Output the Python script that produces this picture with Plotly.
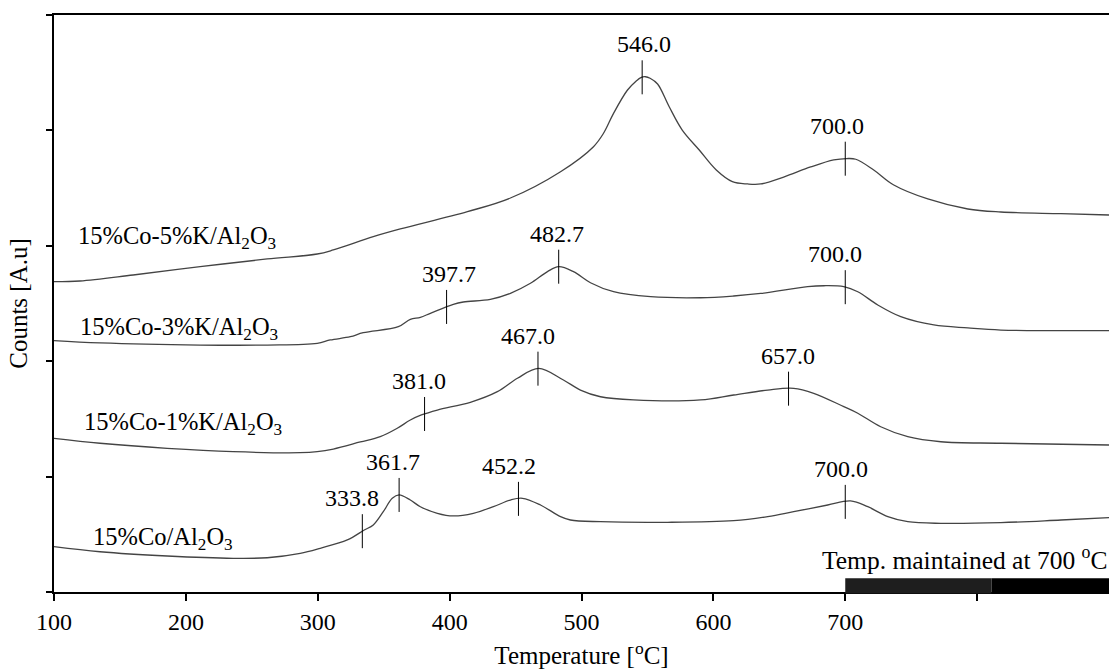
import numpy as np
import plotly.graph_objects as go

# TPR profiles, stacked (temperature in degC, counts in arbitrary units)
t_k5 = [100.0, 119.7, 160.0, 210.8, 261.7, 299.6, 311.8, 342.1, 362.6, 413.5, 446.1,
        484.1, 509.1, 516.7, 524.3, 534.9, 541.5, 545.0, 548.5, 552.0, 557.7, 566.5,
        576.4, 589.3, 602.2, 614.4, 626.0, 635.9, 653.3, 673.8, 691.3, 701.0, 708.0,
        721.6, 736.8, 762.6, 793.0, 818.0, 863.6, 900.0]
c_k5 = [2.689, 2.695, 2.747, 2.819, 2.886, 2.929, 2.964, 3.079, 3.146, 3.296, 3.414,
        3.642, 3.859, 3.975, 4.148, 4.350, 4.428, 4.458, 4.465, 4.452, 4.402, 4.205,
        4.003, 3.830, 3.657, 3.556, 3.536, 3.536, 3.596, 3.683, 3.744, 3.756, 3.750,
        3.657, 3.527, 3.406, 3.319, 3.293, 3.278, 3.267]

t_k3 = [100.0, 134.9, 210.8, 261.7, 299.6, 309.5, 324.7, 334.5, 361.1, 370.2, 377.8,
        385.4, 402.8, 410.4, 430.9, 446.1, 461.3, 474.2, 482.7, 493.9, 506.8, 524.3,
        552.4, 590.3, 615.4, 635.9, 671.5, 683.7, 698.9, 709.5, 724.7, 742.1, 767.2,
        793.0, 818.0, 900.0]
c_k3 = [2.178, 2.158, 2.140, 2.140, 2.155, 2.184, 2.212, 2.247, 2.299, 2.363, 2.380,
        2.415, 2.493, 2.513, 2.536, 2.588, 2.675, 2.776, 2.819, 2.776, 2.680, 2.602,
        2.559, 2.550, 2.565, 2.587, 2.646, 2.654, 2.646, 2.602, 2.487, 2.386, 2.314,
        2.288, 2.270, 2.265]

t_k1 = [100.0, 134.9, 185.8, 235.9, 286.7, 299.6, 311.8, 332.3, 347.4, 360.3, 370.2,
        378.6, 390.7, 415.7, 436.2, 451.4, 467.5, 486.3, 499.2, 514.4, 539.5, 590.3,
        615.4, 641.2, 660.9, 676.1, 698.9, 709.5, 726.9, 747.4, 772.5, 818.0, 900.0]
c_k1 = [1.332, 1.289, 1.245, 1.216, 1.207, 1.216, 1.239, 1.300, 1.346, 1.419, 1.490,
        1.534, 1.577, 1.644, 1.736, 1.852, 1.938, 1.837, 1.750, 1.692, 1.664, 1.664,
        1.707, 1.750, 1.765, 1.722, 1.606, 1.549, 1.432, 1.346, 1.302, 1.289, 1.274]

t_k0 = [100.0, 134.9, 185.8, 235.9, 261.7, 286.7, 301.9, 322.4, 335.3, 342.1, 349.7,
        356.5, 361.7, 370.2, 377.8, 390.7, 402.8, 418.0, 433.2, 446.1, 455.2, 468.9,
        484.1, 491.6, 514.4, 565.3, 615.4, 641.2, 660.9, 686.7, 704.0, 717.1, 732.3,
        747.4, 772.5, 818.0, 863.6, 900.0]
c_k0 = [0.393, 0.349, 0.312, 0.292, 0.297, 0.335, 0.379, 0.451, 0.537, 0.581, 0.696,
        0.812, 0.841, 0.797, 0.739, 0.682, 0.659, 0.682, 0.739, 0.797, 0.812, 0.754,
        0.653, 0.624, 0.609, 0.604, 0.618, 0.653, 0.696, 0.754, 0.789, 0.739, 0.653,
        0.609, 0.595, 0.601, 0.624, 0.644]

series_names = ["15%Co-5%K/Al<sub>2</sub>O<sub>3</sub>",
                "15%Co-3%K/Al<sub>2</sub>O<sub>3</sub>",
                "15%Co-1%K/Al<sub>2</sub>O<sub>3</sub>",
                "15%Co/Al<sub>2</sub>O<sub>3</sub>"]

# labelled peak temperatures for each profile
peaks_k5 = [546.0, 700.0]
peaks_k3 = [397.7, 482.7, 700.0]
peaks_k1 = [381.0, 467.0, 657.0]
peaks_k0 = [333.8, 361.7, 452.2, 700.0]

x_ticks = [100, 200, 300, 400, 500, 600, 700, 800]
x_tick_text = ["100", "200", "300", "400", "500", "600", "700", ""]
y_ticks = [0, 1, 2, 3, 4, 5]

hold_temp = 700
hold_start, hold_split, hold_end = 700, 811, 900

FONT = "Liberation Serif, Times New Roman, serif"
W, H = 1109, 671
ML, MR, MT, MB = 54, 0, 15, 79
X0, X1 = 100, 900
Y0, Y1 = 0, 5
px_per_y = (H - MT - MB) / (Y1 - Y0)
tick_half = 17 / px_per_y

# horizontal nudges (px) of the peak labels relative to their marks
label_nudge = {
    0: [2, -8],
    1: [2, -2, -10],
    2: [-6, -10, -1],
    3: [-10, -6, -9, -4],
}
# name label anchors: (temperature, counts)
name_pos = [(117.0, 3.07), (118.5, 2.28), (121.5, 1.46), (128.0, 0.46)]

profiles = [(t_k5, c_k5, peaks_k5), (t_k3, c_k3, peaks_k3),
            (t_k1, c_k1, peaks_k1), (t_k0, c_k0, peaks_k0)]

fig = go.Figure()
annotations = []
shapes = []

for i, (temps, counts, peaks) in enumerate(profiles):
    fig.add_trace(go.Scatter(
        x=temps, y=counts, mode="lines", line=dict(color="#444444", width=1.3),
        line_shape="spline", hoverinfo="skip", showlegend=False))
    for j, p in enumerate(peaks):
        yc = float(np.interp(p, temps, counts))
        shapes.append(dict(type="line", xref="x", yref="y", x0=p, x1=p,
                           y0=yc - tick_half, y1=yc + tick_half,
                           line=dict(color="black", width=1)))
        annotations.append(dict(
            x=p, y=yc + tick_half, xref="x", yref="y", text=f"{p:.1f}",
            showarrow=False, xanchor="center", yanchor="middle",
            yshift=16, xshift=label_nudge[i][j],
            font=dict(family=FONT, size=24, color="black")))
    nx, ny = name_pos[i]
    annotations.append(dict(
        x=nx, y=ny, xref="x", yref="y", text=series_names[i], showarrow=False,
        xanchor="left", yanchor="middle",
        font=dict(family=FONT, size=24.5, color="black")))

# isothermal hold bar along the temperature axis
bar_y0 = -1.4 / (H - MT - MB)
bar_y1 = 13.7 / (H - MT - MB)
shapes.append(dict(type="rect", xref="x", yref="paper", x0=hold_start, x1=hold_split,
                   y0=bar_y0, y1=bar_y1, fillcolor="#1e1e1e", line=dict(width=0),
                   layer="above"))
shapes.append(dict(type="rect", xref="x", yref="paper", x0=hold_split, x1=hold_end,
                   y0=bar_y0, y1=bar_y1, fillcolor="#000000", line=dict(width=0),
                   layer="above"))
annotations.append(dict(
    x=1, y=bar_y1, xref="paper", yref="paper",
    text=f"Temp. maintained at {hold_temp} <sup>o</sup>C", showarrow=False,
    xanchor="right", yanchor="bottom", yshift=1,
    font=dict(family=FONT, size=25.5, color="black")))

fig.update_layout(
    width=W, height=H,
    margin=dict(l=ML, r=MR, t=MT, b=MB),
    paper_bgcolor="white", plot_bgcolor="white",
    font=dict(family=FONT, size=24, color="black"),
    shapes=shapes, annotations=annotations,
    xaxis=dict(
        range=[X0, X1], tickmode="array", tickvals=x_ticks, ticktext=x_tick_text,
        ticks="outside", ticklen=7, tickwidth=2, tickcolor="black",
        showline=True, linewidth=2, linecolor="black", mirror=True,
        showgrid=False, zeroline=False,
        tickfont=dict(family=FONT, size=24, color="black"),
        title=dict(text="Temperature [<sup>o</sup>C]", standoff=13,
                   font=dict(family=FONT, size=25, color="black")),
    ),
    yaxis=dict(
        range=[Y0, Y1], tickmode="array", tickvals=y_ticks, showticklabels=False,
        ticks="outside", ticklen=6, tickwidth=2, tickcolor="black",
        showline=True, linewidth=2, linecolor="black",
        showgrid=False, zeroline=False,
        title=dict(text="Counts [A.u]", standoff=11,
                   font=dict(family=FONT, size=25, color="black")),
    ),
)

fig.write_html("out.html")
